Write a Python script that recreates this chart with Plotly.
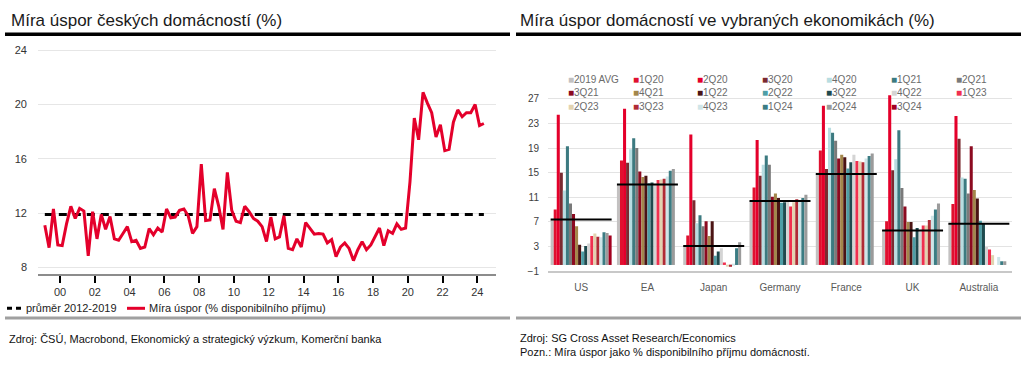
import pandas as pd
import plotly.graph_objects as go

# ---------------- Left chart data: Czech household saving rate (quarterly, from 1999Q1) -------------
cz_saving = [
    11.1, 9.45, 12.3, 9.65, 9.6, 11.2, 12.5, 11.6, 12.35, 12.15,
    8.85, 12.1, 10.1, 11.9, 10.8, 11.75, 10.1, 10.0, 10.5, 11.0,
    9.9, 10.0, 9.4, 9.5, 10.85, 10.4, 10.9, 10.6, 12.3, 11.65,
    11.7, 12.2, 12.3, 11.8, 10.5, 11.0, 15.6, 11.45, 11.5, 13.8,
    12.5, 10.8, 15.0, 12.2, 11.4, 11.3, 12.5, 12.1, 11.6, 11.4,
    11.0, 9.9, 11.7, 10.1, 10.25, 11.8, 9.4, 9.3, 10.1, 9.5,
    11.3, 10.85, 10.45, 10.5, 10.45, 9.8, 10.05, 8.8, 9.5, 9.8,
    9.4, 8.5, 9.3, 9.9, 9.3, 9.65, 10.25, 10.9, 9.6, 10.7,
    10.5, 11.2, 10.8, 10.9, 14.3, 19.0, 17.4, 20.9, 20.1, 19.4,
    17.6, 18.5, 16.6, 16.7, 18.7, 19.6, 19.1, 19.4, 19.4, 20.0,
    18.45, 18.6,
]
cz_start_quarter = "1999Q1"
cz_avg_2012_2019 = 11.9
left_yticks = [8, 12, 16, 20, 24]
left_series_names = ["průměr 2012-2019", "Míra úspor (% disponibilního příjmu)"]

# ---------------- Right chart data: saving rates in selected economies -------------
countries = ["US", "EA", "Japan", "Germany", "France", "UK", "Australia"]
periods = ["2019 AVG", "1Q20", "2Q20", "3Q20", "4Q20", "1Q21", "2Q21",
           "3Q21", "4Q21", "1Q22", "2Q22", "3Q22", "4Q22", "1Q23",
           "2Q23", "3Q23", "4Q23", "1Q24", "2Q24", "3Q24"]
period_colors = ["#c3c1c1", "#e0102f", "#e4002b", "#7b2a30", "#b8dde1", "#3c7a80", "#7a7a7a",
                 "#8c0a20", "#a3874b", "#4b1414", "#4e9ea6", "#1f4a4e", "#d4d4d4", "#f0304f",
                 "#e2d3b0", "#b02b35", "#cfe5e8", "#3b7c83", "#9b9b9b", "#a3001f"]
us = [7.4, 9.0, 24.4, 15.0, 12.1, 19.3, 10.0, 8.3, 6.3, 3.3, 2.2, 3.1, 3.5, 4.7, 5.1, 4.6, 4.5, 5.3, 5.2, 4.8]
ea = [13.1, 17.0, 25.4, 16.6, 18.8, 20.6, 19.0, 15.2, 14.3, 14.5, 13.3, 13.4, 13.2, 13.8, 13.9, 14.0, 14.4, 15.3, 15.6, None]
japan = [3.1, 4.8, 21.2, 10.5, 6.8, 8.1, 6.3, 7.1, 4.7, 7.1, 1.5, 2.2, 2.7, 0.4, -0.2, -0.3, 0.1, 2.7, 3.7, None]
germany = [10.4, 12.6, 20.3, 14.5, 16.3, 17.8, 16.3, 11.1, 11.6, 10.9, 10.1, 10.2, 10.4, 9.5, 10.2, 10.7, 10.5, 10.9, 11.4, None]
france = [14.8, 18.6, 25.9, 15.6, 22.3, 21.5, 20.2, 17.3, 17.9, 17.5, 15.7, 16.7, 17.9, 16.9, 16.8, 16.7, 17.3, 17.7, 18.1, None]
uk = [5.6, 7.1, 27.6, 15.4, 17.2, 21.9, 12.5, 9.5, 7.0, 7.0, 4.5, 6.0, 5.5, 6.4, 6.4, 7.3, 8.0, 9.0, 10.0, None]
australia = [6.7, 9.9, 24.2, 20.5, 14.2, 14.0, 11.6, 19.3, 12.2, 10.8, 7.2, 6.7, 2.9, 2.5, 1.6, None, 1.3, 0.6, 0.6, None]
avg_2019 = [7.4, 13.1, 3.1, 10.4, 14.8, 5.6, 6.7]
right_yticks = [-1, 3, 7, 11, 15, 19, 23, 27]

# ---------------- Texts -------------
title_left = "Míra úspor českých domácností (%)"
title_right = "Míra úspor domácností ve vybraných ekonomikách (%)"
source_left = "Zdroj: ČSÚ, Macrobond, Ekonomický a strategický výzkum, Komerční banka"
source_right = "Zdroj: SG Cross Asset Research/Economics"
note_right = "Pozn.: Míra úspor jako % disponibilního příjmu domácností."

W, H = 1024, 374
FONT = "Liberation Sans, Arial, Helvetica, sans-serif"


def px(x):
    return x / W


def py(y):
    return 1 - y / H


fig = go.Figure()

# ---- left chart traces
dates = pd.period_range(cz_start_quarter, periods=len(cz_saving), freq="Q").to_timestamp(how="start") + pd.Timedelta(days=45)
fig.add_trace(go.Scatter(x=dates, y=[cz_avg_2012_2019] * len(dates), mode="lines",
                         line=dict(color="black", width=3, dash="8px,6px"),
                         name=left_series_names[0], xaxis="x", yaxis="y", showlegend=False))
fig.add_trace(go.Scatter(x=dates, y=cz_saving, mode="lines",
                         line=dict(color="#e4002b", width=3),
                         name=left_series_names[1], xaxis="x", yaxis="y", showlegend=False))

# ---- right chart traces
by_country = [us, ea, japan, germany, france, uk, australia]
for j, (p, c) in enumerate(zip(periods, period_colors)):
    fig.add_trace(go.Bar(x=list(range(len(countries))), y=[vals[j] for vals in by_country],
                         name=p, marker=dict(color=c, line=dict(width=0)),
                         xaxis="x2", yaxis="y2", showlegend=False))
avg_x, avg_y = [], []
for i, v in enumerate(avg_2019):
    avg_x += [i - 0.46, i + 0.46, None]
    avg_y += [v, v, None]
fig.add_trace(go.Scatter(x=avg_x, y=avg_y, mode="lines", line=dict(color="black", width=2),
                         xaxis="x2", yaxis="y2", showlegend=False, name="2019 AVG (line)"))

# ---- layout
fig.update_layout(
    width=W, height=H, margin=dict(l=0, r=0, t=0, b=0),
    paper_bgcolor="white", plot_bgcolor="white",
    font=dict(family=FONT, color="#333333"),
    barmode="group", bargap=0.08, bargroupgap=0,
    showlegend=False,
    xaxis=dict(domain=[px(38), px(496)], type="date",
               range=["1998-09-25", "2025-01-26"],
               tick0="2000-01-01", dtick="M24", tickformat="%y",
               ticks="outside", ticklen=7, tickwidth=2, tickcolor="black",
               showline=True, linecolor="#8c8c8c", linewidth=2,
               showgrid=False, tickfont=dict(size=11, color="#333333"),
               anchor="y", fixedrange=True),
    yaxis=dict(domain=[py(277.7), py(45.1)], range=[7.53, 24.3],
               tickvals=left_yticks, showgrid=True, gridcolor="#e6e6e6", gridwidth=1,
               zeroline=False, showline=False, ticks="", ticklabelstandoff=10,
               tickfont=dict(size=11, color="#333333"), anchor="x"),
    xaxis2=dict(domain=[px(548), px(1012)], range=[-0.5, 6.5],
                tickvals=list(range(len(countries))), ticktext=countries,
                showline=True, linecolor="#c8c8c8", linewidth=2, showgrid=False,
                zeroline=False, ticks="", ticklabelstandoff=6,
                tickfont=dict(size=10, color="#595959"), anchor="y2"),
    yaxis2=dict(domain=[py(275), py(89.56)], range=[-1, 28.5],
                tickvals=right_yticks, showgrid=True, gridcolor="#e3e3e3", gridwidth=1,
                zeroline=False, showline=False, ticks="", ticklabelstandoff=8,
                tickfont=dict(size=10, color="#404040"), anchor="x2"),
)

shapes = []
annotations = []

# titles & rules
annotations.append(dict(text=title_left, x=px(9), y=py(19), xref="paper", yref="paper",
                        xanchor="left", yanchor="middle", showarrow=False,
                        font=dict(size=17, color="#1a1a1a")))
annotations.append(dict(text=title_right, x=px(518), y=py(19), xref="paper", yref="paper",
                        xanchor="left", yanchor="middle", showarrow=False,
                        font=dict(size=17, color="#1a1a1a")))
for x0, x1 in [(5, 510), (516, 1021)]:
    shapes.append(dict(type="line", xref="paper", yref="paper", x0=px(x0), x1=px(x1),
                       y0=py(33), y1=py(33), line=dict(color="black", width=3.5)))
    shapes.append(dict(type="line", xref="paper", yref="paper", x0=px(x0), x1=px(x1),
                       y0=py(323), y1=py(323), line=dict(color="#a0a0a0", width=3)))

# left legend
shapes.append(dict(type="line", xref="paper", yref="paper", x0=px(7), x1=px(22),
                   y0=py(313), y1=py(313), line=dict(color="black", width=3, dash="5px,4px")))
annotations.append(dict(text=left_series_names[0], x=px(24), y=py(313), xref="paper", yref="paper",
                        xanchor="left", yanchor="middle", showarrow=False,
                        font=dict(size=11, color="#222222")))
shapes.append(dict(type="line", xref="paper", yref="paper", x0=px(127), x1=px(145),
                   y0=py(313), y1=py(313), line=dict(color="#e4002b", width=3)))
annotations.append(dict(text=left_series_names[1], x=px(147), y=py(313), xref="paper", yref="paper",
                        xanchor="left", yanchor="middle", showarrow=False,
                        font=dict(size=11, color="#222222")))

# right legend (3 rows x 7 columns)
for k, (p, c) in enumerate(zip(periods, period_colors)):
    row, col = divmod(k, 7)
    annotations.append(dict(text=f'<span style="color:{c}">■</span>{p}',
                            x=px(566 + 64.6 * col), y=py(79 + 13.8 * row),
                            xref="paper", yref="paper", xanchor="left", yanchor="middle",
                            showarrow=False, font=dict(size=10, color="#6b6b6b")))

# footers
annotations.append(dict(text=source_left, x=px(7), y=py(344), xref="paper", yref="paper",
                        xanchor="left", yanchor="middle", showarrow=False,
                        font=dict(size=11, color="#111111")))
annotations.append(dict(text=source_right, x=px(518), y=py(343), xref="paper", yref="paper",
                        xanchor="left", yanchor="middle", showarrow=False,
                        font=dict(size=11, color="#111111")))
annotations.append(dict(text=note_right, x=px(518), y=py(358), xref="paper", yref="paper",
                        xanchor="left", yanchor="middle", showarrow=False,
                        font=dict(size=11, color="#111111")))

fig.update_layout(shapes=shapes, annotations=annotations)
fig.write_html(
    "out.html",
    config={"displayModeBar": False},
    post_script=(
        "var s=document.body.style;s.margin='0';s.padding='0';s.overflow='hidden';"
        "var h=document.documentElement.style;h.margin='0';h.overflow='hidden';"
    ),
)
